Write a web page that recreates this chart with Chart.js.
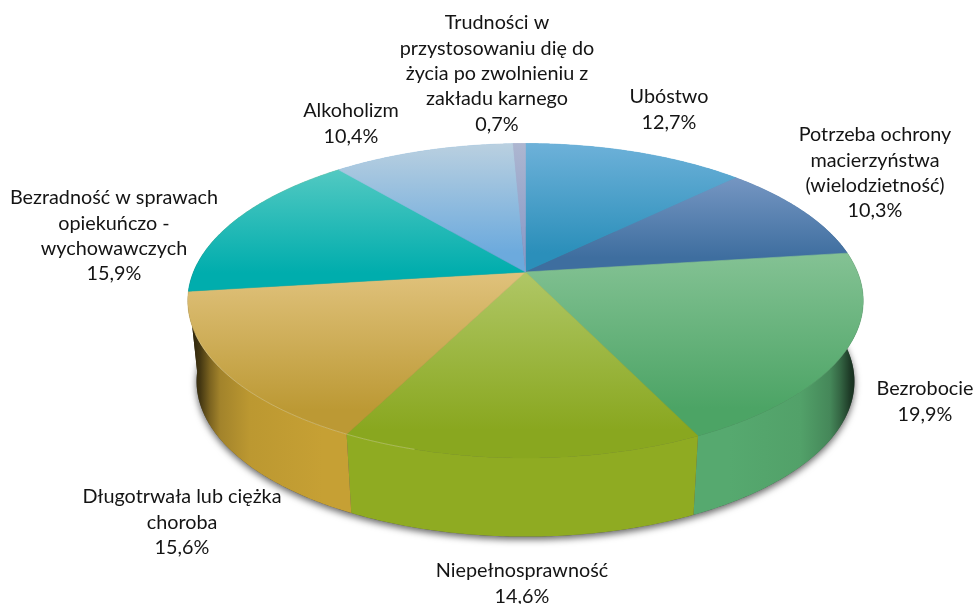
<!DOCTYPE html>
<html lang="pl">
<head>
<meta charset="utf-8">
<title>Powody przyznania pomocy</title>
<script src="https://cdn.jsdelivr.net/npm/chart.js@4/dist/chart.umd.js"></script>
<style>
  html, body { margin: 0; padding: 0; background: #fff; }
  canvas { display: block; }
</style>
</head>
<body>
<canvas id="pie" width="976" height="604"></canvas>
<script>
'use strict';

/* data */
const categories = [
  ['Ubóstwo'],
  ['Potrzeba ochrony', 'macierzyństwa', '(wielodzietność)'],
  ['Bezrobocie'],
  ['Niepełnosprawność'],
  ['Długotrwała lub ciężka', 'choroba'],
  ['Bezradność w sprawach', 'opiekuńczo -', 'wychowawczych'],
  ['Alkoholizm'],
  ['Trudności w', 'przystosowaniu dię do', 'życia po zwolnieniu z', 'zakładu karnego'],
];
const shares = [12.7, 10.3, 19.9, 14.6, 15.6, 15.9, 10.4, 0.7];

/* styles */
const faceTop = ['#6db1d9', '#7596c2', '#84c294', '#b0c766', '#e0c27c', '#52c9c2', '#bad0e0', '#adb6d0'];
const faceBottom = ['#2b8fba', '#3e6e9f', '#4ca465', '#89a71f', '#bc9934', '#00adad', '#6caadd', '#8a9bc8'];
// the Bezradność wall only shows as a sliver at the far left, next to the tan one
const wallBase = ['#2b8fba', '#3e6e9f', '#56a96f', '#8fab22', '#c6a034', '#c6a034', '#6caadd', '#8a9bc8'];
const labelSpots = [
  [669, 97], [875, 135], [925, 389], [522, 571],
  [182, 497], [114, 198], [351, 111], [497, 23],
];
const lineHeight = 25.3;
const labelFont = '19.8px Lato, Carlito, sans-serif';

/* shape of the tilted disc, as ratios of the radius Chart.js works out */
const SPREAD_X = 1.2206;
const SPREAD_Y = 0.5588;
const FAR_SHRINK = 0.183;
const DEPTH_X = 0.974;
const DEPTH_Y = 0.5515;
const DEPTH_DROP = 0.2978;

const wallShades = [
  [0, 0.15], [0.02, 0.35], [0.034, 0.62], [0.049, 0.82], [0.093, 0.95], [0.2, 1],
  [0.8, 1], [0.906, 0.95], [0.95, 0.8], [0.965, 0.6], [0.98, 0.33], [1, 0.15],
];

const shade = (hex, k) => {
  const n = parseInt(hex.slice(1), 16);
  const r = Math.round(((n >> 16) & 255) * k);
  const g = Math.round(((n >> 8) & 255) * k);
  const b = Math.round((n & 255) * k);
  return `rgb(${r},${g},${b})`;
};

// a - canvas angle of the arc, top plane of the disc
const topPoint = (arc, a) => {
  const t = a + Math.PI / 2;
  const w = 1 + FAR_SHRINK * Math.cos(t);
  const r = arc.outerRadius;
  return [arc.x + (r * SPREAD_X * Math.sin(t)) / w, arc.y - (r * SPREAD_Y * Math.cos(t)) / w];
};

const bottomPoint = (arc, a) => {
  const t = a + Math.PI / 2;
  const w = 1 + FAR_SHRINK * Math.cos(t);
  const r = arc.outerRadius;
  return [
    arc.x + (r * SPREAD_X * DEPTH_X * Math.sin(t)) / w,
    arc.y + r * DEPTH_DROP - (r * DEPTH_Y * Math.cos(t)) / w,
  ];
};

const steps = (from, to) => {
  const list = [];
  const n = Math.max(2, Math.ceil((to - from) / 0.01));
  for (let i = 0; i <= n; i++) list.push(from + ((to - from) * i) / n);
  return list;
};

class Arc3d extends Chart.ArcElement {
  static id = 'arc3d';

  drawWall(ctx) {
    const angles = steps(this.startAngle, this.endAngle);
    const half = this.outerRadius * SPREAD_X * 1.02;
    const fill = ctx.createLinearGradient(this.x - half, 0, this.x + half, 0);
    const base = this.options.backgroundColor.wall;
    wallShades.forEach(([stop, k]) => fill.addColorStop(stop, shade(base, k)));
    ctx.beginPath();
    angles.forEach((a) => ctx.lineTo(...topPoint(this, a)));
    angles.reverse().forEach((a) => ctx.lineTo(...bottomPoint(this, a)));
    ctx.closePath();
    ctx.fillStyle = fill;
    ctx.fill();
  }

  draw(ctx) {
    const rim = steps(this.startAngle, this.endAngle).map((a) => topPoint(this, a));
    const points = rim.concat([[this.x, this.y]]);
    const ys = points.map((p) => p[1]);
    const fill = ctx.createLinearGradient(0, Math.min(...ys), 0, Math.max(...ys));
    fill.addColorStop(0, this.options.backgroundColor.top);
    fill.addColorStop(0.85, this.options.backgroundColor.bottom);
    fill.addColorStop(1, this.options.backgroundColor.bottom);
    ctx.beginPath();
    points.forEach((p) => ctx.lineTo(...p));
    ctx.closePath();
    ctx.fillStyle = fill;
    ctx.strokeStyle = fill;
    ctx.lineWidth = 0.6;
    ctx.fill();
    ctx.stroke();
  }

  // thin light edge where the face meets the wall, left part of the front only
  drawRim(ctx) {
    const from = Math.max(this.startAngle, 1.85);
    const to = Math.min(this.endAngle, 2.75);
    if (to <= from) return;
    ctx.beginPath();
    steps(from, to).forEach((a) => ctx.lineTo(...topPoint(this, a)));
    ctx.strokeStyle = 'rgba(255,250,210,0.3)';
    ctx.lineWidth = 1;
    ctx.stroke();
  }
}

class Pie3d extends Chart.PieController {
  static id = 'pie3d';
  static defaults = { dataElementType: 'arc3d' };

  draw() {
    const ctx = this.chart.ctx;
    const arcs = this._cachedMeta.data;
    // soft shadow under the whole disc
    ctx.save();
    ctx.shadowColor = 'rgba(0,0,0,0.6)';
    ctx.shadowBlur = 7;
    ctx.shadowOffsetY = 3;
    ctx.fillStyle = '#555';
    ctx.beginPath();
    steps(-Math.PI / 2, Math.PI * 1.5).forEach((a) => ctx.lineTo(...bottomPoint(arcs[0], a)));
    ctx.closePath();
    ctx.fill();
    ctx.restore();

    arcs.forEach((arc) => arc.drawWall(ctx));
    arcs.forEach((arc) => arc.draw(ctx));
    arcs.forEach((arc) => arc.drawRim(ctx));
  }
}

Chart.register(Arc3d, Pie3d);

const labelPlugin = {
  id: 'sliceLabels',
  afterDraw(chart) {
    const ctx = chart.ctx;
    ctx.save();
    ctx.font = labelFont;
    ctx.fillStyle = '#141414';
    ctx.textAlign = 'center';
    ctx.textBaseline = 'middle';
    categories.forEach((lines, i) => {
      const [x, y] = labelSpots[i];
      const text = lines.concat(String(shares[i]).replace('.', ',') + '%');
      text.forEach((line, j) => ctx.fillText(line, x, y + j * lineHeight));
    });
    ctx.restore();
  },
};

new Chart(document.getElementById('pie'), {
  type: 'pie3d',
  data: {
    labels: categories.map((lines) => lines.join(' ')),
    datasets: [
      {
        data: shares,
        backgroundColor: shares.map((_, i) => ({ top: faceTop[i], bottom: faceBottom[i], wall: wallBase[i] })),
        borderWidth: 0,
        hoverOffset: 0,
      },
    ],
  },
  options: {
    responsive: false,
    animation: false,
    layout: { padding: { left: 75, bottom: 60 } },
    plugins: { legend: { display: false }, tooltip: { enabled: false } },
  },
  plugins: [labelPlugin],
});
</script>
</body>
</html>
